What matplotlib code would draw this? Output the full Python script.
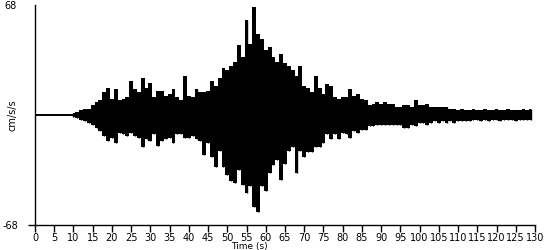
import matplotlib
matplotlib.use('Agg')
import matplotlib.pyplot as plt
import numpy as np

# Seismogram envelope, one sample per second (cm/s/s)
quiet_t = [0, 10]
t = list(range(10, 130))
upper = [1, 2, 3, 4, 4, 6, 8, 9, 14, 17,
         10, 16, 9, 10, 11, 21, 16, 14, 23, 17,
         20, 11, 15, 15, 12, 13, 16, 11, 9, 24,
         12, 11, 16, 14, 14, 15, 21, 18, 23, 29,
         28, 30, 33, 43, 36, 59, 44, 67, 50, 47,
         40, 42, 36, 33, 38, 32, 30, 28, 24, 30,
         18, 17, 14, 24, 17, 13, 19, 18, 11, 10,
         11, 11, 16, 12, 13, 10, 9, 6, 7, 8,
         7, 8, 7, 7, 5, 5, 6, 6, 5, 9,
         6, 6, 7, 5, 5, 5, 5, 5, 4, 4,
         3, 4, 3, 3, 4, 3, 3, 4, 3, 3,
         4, 3, 3, 4, 3, 3, 3, 4, 3, 4]
lower = [-1, -2, -3, -4, -5, -6, -8, -10, -13, -16,
         -14, -17, -11, -12, -13, -11, -13, -14, -20, -15,
         -16, -12, -19, -16, -15, -14, -17, -12, -12, -14,
         -14, -13, -15, -16, -25, -17, -26, -32, -22, -32,
         -37, -41, -42, -34, -43, -48, -44, -57, -60, -44,
         -47, -36, -31, -28, -40, -30, -22, -20, -36, -22,
         -26, -23, -23, -20, -20, -17, -12, -15, -12, -15,
         -11, -12, -14, -10, -11, -9, -9, -7, -7, -6,
         -6, -6, -6, -6, -6, -6, -8, -8, -6, -7,
         -5, -5, -6, -5, -4, -5, -4, -5, -4, -5,
         -4, -4, -4, -4, -3, -3, -4, -3, -4, -3,
         -3, -4, -3, -3, -3, -4, -3, -3, -3, -3]
xticks = list(range(0, 135, 5))
ylim = 68

fig = plt.figure(figsize=(5.5, 2.5), dpi=100)
fig.patch.set_facecolor('white')
ax = fig.add_axes([0.0636, 0.1, 0.9091, 0.88])

# flat pre-event trace
ax.plot(quiet_t, [0, 0], color='black', lw=1.4, solid_capstyle='butt')
# shaking: stepped band between the per-second extremes, plus thin spikes
ax.fill_between(t, lower, upper, step='mid', color='black', lw=0)
ax.vlines(t, lower, upper, color='black', lw=1)

ax.set_xlim(0, 130)
ax.set_ylim(-ylim, ylim)

for s in ['top', 'right']:
    ax.spines[s].set_visible(False)
for s in ['left', 'bottom']:
    ax.spines[s].set_linewidth(1)

ax.set_xticks(xticks)
ax.set_xticklabels([str(v) for v in xticks], fontsize=7)
ax.tick_params(axis='x', direction='out', length=5, width=1, pad=0.5)

ax.set_yticks([-ylim])
ax.set_yticklabels([str(-ylim)], fontsize=7)
ax.set_yticks([ylim], minor=True)
ax.set_yticklabels([str(ylim)], minor=True, fontsize=7)
ax.tick_params(axis='y', which='major', length=5, width=1, pad=7)
ax.tick_params(axis='y', which='minor', length=0, pad=13)

ax.set_ylabel('cm/s/s', fontsize=7)
ax.yaxis.set_label_coords(-0.034, 0.5)
ax.set_xlabel('Time (s)', fontsize=6.5, labelpad=0)
ax.xaxis.set_label_coords(0.428, -0.076)

fig.savefig('out.png', dpi=100, facecolor='white')
